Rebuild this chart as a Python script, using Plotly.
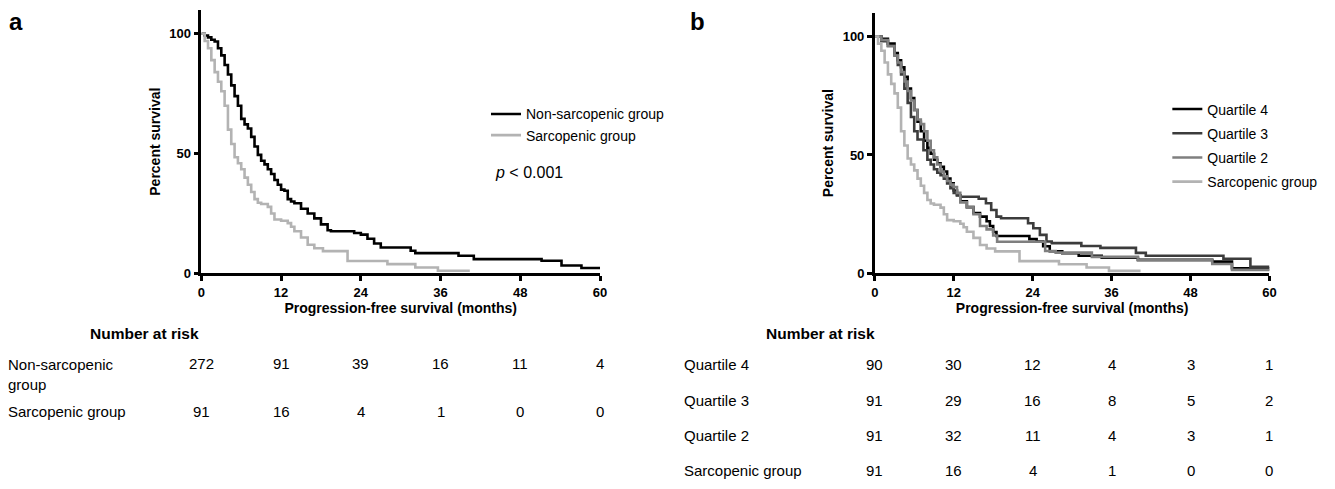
import plotly.graph_objects as go

# ---------------- data ----------------
months_ticks = [0, 12, 24, 36, 48, 60]

nonsarc_t = [0, 0.5, 1.0, 1.5, 2.0, 2.5, 3.0, 3.5, 4.0, 4.5, 5.0, 5.5, 6.0, 6.5, 7.0, 7.5, 8.0, 8.5,
             9.0, 9.5, 10.0, 10.5, 11.0, 11.5, 12.0, 12.5, 13.0, 13.5, 14.0, 15.0, 16.0, 17.0, 18.0,
             19.0, 19.5, 23.0, 24.0, 25.0, 26.0, 27.0, 31.5, 32.2, 38.7, 41.0, 51.2, 54.2, 57.2, 60.0]
nonsarc_s = [100, 99.3, 98.5, 97.5, 96.8, 94, 91, 87, 83, 78.5, 74, 70, 64.5, 62.2, 60.5, 57, 53, 49.5,
             47, 45.5, 43.5, 41.5, 39, 37, 35, 34.5, 31, 30, 29.3, 27, 25, 23, 20.5,
             18, 17.6, 16.9, 16.2, 14.5, 12.5, 10.8, 9.5, 8.5, 7.4, 6.0, 5.3, 3.3, 2.3, 2.3]

sarc_t = [0, 0.5, 1.0, 1.5, 2.0, 2.5, 3.0, 3.5, 4.0, 4.5, 5.0, 5.5, 6.0, 6.5, 7.0, 7.5, 8.0, 8.5,
          9.0, 10.0, 10.5, 11.0, 12.0, 13.0, 13.5, 14.0, 15.0, 16.0, 17.0, 18.3, 22.0, 28.0, 32.2,
          35.6, 40.4]
sarc_s = [100, 97, 94, 89, 84, 80, 76, 70, 60, 54, 48.5, 46, 43.5, 40, 37, 34, 31, 29.5,
          29, 27.8, 25, 22.5, 22, 21, 19.5, 17.6, 15, 12, 10.5, 9.3, 5.2, 3.9, 2.5,
          1.1, 1.1]

q4_t = [0, 1, 2, 3, 3.5, 4, 4.5, 5, 5.5, 6, 6.5, 7, 7.5, 8, 8.5, 9, 9.5, 10, 10.5, 11, 11.5, 12,
        12.5, 13, 14, 15, 16, 17, 17.5, 18, 18.5, 22.5, 23.5, 24.6, 25.6, 26.6, 28.5, 31, 34.5,
        40, 51.3, 54.3, 60]
q4_s = [100, 99, 97, 93, 90, 87, 83, 78, 74, 69, 64, 60, 56, 53, 50.5, 48, 46.5, 45, 43, 40, 38, 35,
        33, 30.5, 28, 25.5, 24, 22, 20, 17.5, 15.8, 15.8, 14.5, 13.5, 11.5, 9.4, 8.5, 7.5, 6.6,
        5.8, 5.0, 2.2, 2.2]

q3_t = [0, 1, 2, 3, 3.5, 4, 4.5, 5, 5.5, 6, 6.5, 7.4, 8, 8.5, 9, 9.5, 10, 10.5, 11, 11.5, 12, 12.5,
        13, 15.8, 16.9, 17.7, 18.5, 19.2, 22.5, 23.3, 24.1, 25.1, 26.1, 26.9, 31.4, 34.3, 39.7,
        41.2, 53, 57.1, 60]
q3_s = [100, 98, 96, 92, 88, 84, 78, 72, 66, 60, 56.5, 52, 48, 46, 44, 42.5, 41.5, 40, 38, 36, 34, 33,
        32.4, 31.5, 29.6, 26.8, 24, 23.3, 23.3, 21.2, 19.1, 16.3, 13.5, 12.8, 11.6, 10.8, 8.7,
        7.5, 6.2, 2.8, 2.8]

q2_t = [0, 1, 2, 3, 3.5, 4, 4.5, 5, 5.5, 6, 6.5, 7, 7.5, 8, 8.5, 9, 9.5, 10, 10.5, 11, 11.5, 12,
        12.5, 13, 14, 15, 16, 17, 18, 18.6, 25.9, 27.5, 33, 40, 51.3, 54.3, 60]
q2_s = [100, 98.5, 96, 92, 89, 85, 81, 77, 73, 69, 65, 63, 60, 56, 52, 49, 46, 43, 41, 39, 37.5, 36.5,
        34, 30, 28, 25, 20, 18.6, 16, 13.4, 9.5, 8.8, 7.0, 5.5, 4.0, 1.5, 1.0]

risk_a_labels = ["Non-sarcopenic<br>group", "Sarcopenic group"]
risk_a = [[272, 91, 39, 16, 11, 4],
          [91, 16, 4, 1, 0, 0]]
risk_b_labels = ["Quartile 4", "Quartile 3", "Quartile 2", "Sarcopenic group"]
risk_b = [[90, 30, 12, 4, 3, 1],
          [91, 29, 16, 8, 5, 2],
          [91, 32, 11, 4, 3, 1],
          [91, 16, 4, 1, 0, 0]]

# ---------------- figure ----------------
W, H = 1335, 489
FONT = "Liberation Sans, Arial, sans-serif"
BLACK = "#000000"
LIGHT = "#b3b3b3"
DARK = "#3c3c3c"
MID = "#7f7f7f"

def py(px):
    return 1 - px / H

def px_(x):
    return x / W

fig = go.Figure()

def add_curve(t, s, name, color, xa, ya, legend, group):
    fig.add_trace(go.Scatter(
        x=t, y=s, mode="lines", name=name, line=dict(color=color, width=2.6, shape="hv"),
        xaxis=xa, yaxis=ya, legend=legend, legendgroup=group, showlegend=True,
        hoverinfo="skip"))

add_curve(nonsarc_t, nonsarc_s, "Non-sarcopenic group", BLACK, "x", "y", "legend", "a1")
add_curve(sarc_t, sarc_s, "Sarcopenic group", LIGHT, "x", "y", "legend", "a2")

add_curve(q4_t, q4_s, "Quartile 4", BLACK, "x2", "y2", "legend2", "b1")
add_curve(q3_t, q3_s, "Quartile 3", DARK, "x2", "y2", "legend2", "b2")
add_curve(q2_t, q2_s, "Quartile 2", MID, "x2", "y2", "legend2", "b3")
add_curve(sarc_t, sarc_s, "Sarcopenic group", LIGHT, "x2", "y2", "legend2", "b4")

axis_common = dict(
    showline=True, linecolor="black", linewidth=2.6, ticks="outside", ticklen=5,
    tickwidth=2.6, tickcolor="black", showgrid=False, zeroline=False,
    tickfont=dict(family=FONT, size=13, color="black", weight="bold"),
    title_font=dict(family=FONT, size=14, color="black", weight="bold"),
)

fig.update_layout(
    width=W, height=H, margin=dict(l=0, r=0, t=0, b=0),
    paper_bgcolor="white", plot_bgcolor="white",
    font=dict(family=FONT, color="black"),
    xaxis=dict(domain=[px_(199), px_(601)], range=[0, 60], tickvals=months_ticks,
               title=dict(text="Progression-free survival (months)", standoff=4),
               anchor="y", **axis_common),
    yaxis=dict(domain=[py(278), py(10)], range=[0, 110], tickvals=[0, 50, 100],
               title=dict(text="Percent survival", standoff=6), anchor="x", **axis_common),
    xaxis2=dict(domain=[px_(878), px_(1276)], range=[0, 60], tickvals=months_ticks,
                title=dict(text="Progression-free survival (months)", standoff=4),
                anchor="y2", **axis_common),
    yaxis2=dict(domain=[py(278), py(13)], range=[0, 110], tickvals=[0, 50, 100],
                title=dict(text="Percent survival", standoff=6), anchor="x2", **axis_common),
    legend=dict(x=px_(486), y=py(100), xanchor="left", yanchor="top",
                font=dict(family=FONT, size=14, color="black"), bgcolor="rgba(0,0,0,0)",
                tracegroupgap=0, itemclick=False),
    legend2=dict(x=px_(1173), y=py(95), xanchor="left", yanchor="top",
                 font=dict(family=FONT, size=14, color="black"), bgcolor="rgba(0,0,0,0)",
                 tracegroupgap=3, itemclick=False),
    showlegend=True,
)

ann = []
ann.append(dict(text="<b>a</b>", x=px_(3), y=py(22), xref="paper", yref="paper",
                xanchor="left", yanchor="middle", showarrow=False,
                font=dict(family=FONT, size=24, color="black")))
ann.append(dict(text="<b>b</b>", x=px_(690), y=py(22), xref="paper", yref="paper",
                xanchor="left", yanchor="middle", showarrow=False,
                font=dict(family=FONT, size=24, color="black")))
ann.append(dict(text="<i>p</i> &lt; 0.001", x=px_(493), y=py(175), xref="paper", yref="paper",
                xanchor="left", yanchor="middle", showarrow=False,
                font=dict(family=FONT, size=16, color="black")))

for cx in (142, 823):
    ann.append(dict(text="<b>Number at risk</b>", x=px_(cx), y=py(339), xref="paper",
                    yref="paper", xanchor="center", yanchor="middle", showarrow=False,
                    font=dict(family=FONT, size=15.5, color="black")))

rows_a_y = [370, 418]
for lab, vals, ry in zip(risk_a_labels, risk_a, rows_a_y):
    ann.append(dict(text=lab, x=px_(2), y=py(ry - 10), xref="paper", yref="paper",
                    xanchor="left", yanchor="top", align="left", showarrow=False,
                    font=dict(family=FONT, size=15, color="black")))
    for t, v in zip(months_ticks, vals):
        ann.append(dict(text=str(v), x=t, y=py(ry), xref="x", yref="paper",
                        xanchor="center", yanchor="middle", showarrow=False,
                        font=dict(family=FONT, size=15, color="black")))

rows_b_y = [371, 407, 443, 478]
for lab, vals, ry in zip(risk_b_labels, risk_b, rows_b_y):
    ann.append(dict(text=lab, x=px_(684), y=py(ry), xref="paper", yref="paper",
                    xanchor="left", yanchor="middle", align="left", showarrow=False,
                    font=dict(family=FONT, size=15, color="black")))
    for t, v in zip(months_ticks, vals):
        ann.append(dict(text=str(v), x=t, y=py(ry), xref="x2", yref="paper",
                        xanchor="center", yanchor="middle", showarrow=False,
                        font=dict(family=FONT, size=15, color="black")))

fig.update_layout(annotations=ann)
fig.write_html("out.html",
               config={"displayModeBar": False},
               post_script="document.body.style.margin='0';document.body.style.padding='0';")
